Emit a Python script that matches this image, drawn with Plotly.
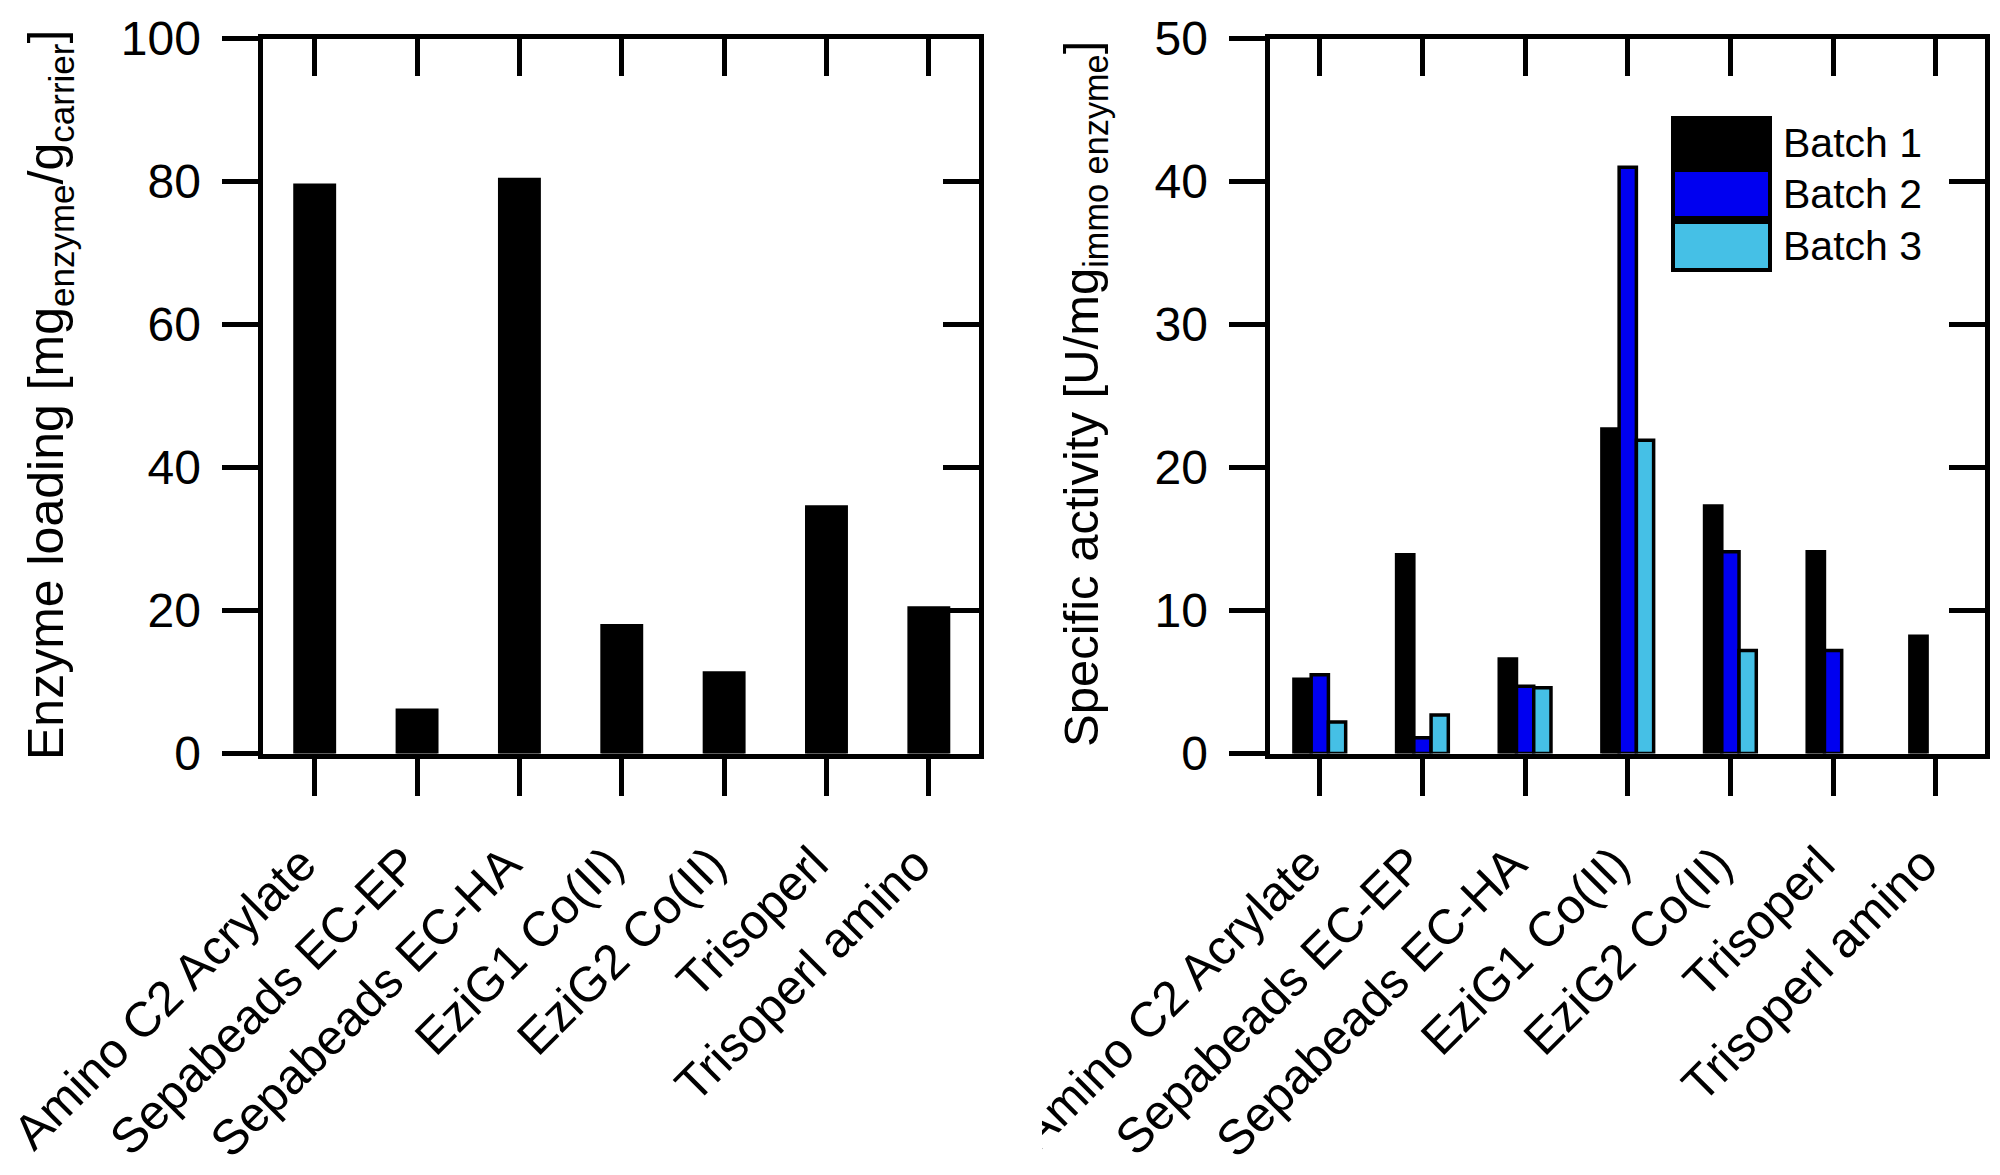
import plotly.graph_objects as go

# ---------------- data ----------------
carriers = ["Amino C2 Acrylate", "Sepabeads EC-EP", "Sepabeads EC-HA",
            "EziG1 Co(II)", "EziG2 Co(II)", "Trisoperl", "Trisoperl amino"]
enzyme_loading = [79.5, 6.1, 80.3, 17.9, 11.3, 34.5, 20.4]

batch_names = ["Batch 1", "Batch 2", "Batch 3"]
batch1_activity = [5.2, 13.9, 6.6, 22.7, 17.3, 14.1, 8.2]
batch2_activity = [5.5, 1.1, 4.7, 41.0, 14.1, 7.2, None]
batch3_activity = [2.2, 2.7, 4.6, 21.9, 7.2, None, None]
batch_colors = ["#000000", "#0000F0", "#45C0E6"]

left_ticks = [0, 20, 40, 60, 80, 100]
right_ticks = [0, 10, 20, 30, 40, 50]

# ---------------- styling ----------------
FONT = "Liberation Sans, Arial, sans-serif"
W, H = 2000, 1175
LW = 5
y_dom = [1 - 753.5 / H, 1 - 38.5 / H]
xl_dom = [262.5 / W, 979 / W]
xr_dom = [1269.5 / W, 1985 / W]
xrange_l = [-0.51, 6.49]
xrange_r = [-0.49, 6.48]

fig = go.Figure()

fig.add_trace(go.Bar(x=carriers, y=enzyme_loading, xaxis="x", yaxis="y",
                     width=0.39, marker=dict(color="black", line=dict(color="black", width=3)),
                     showlegend=False))

bw = 0.168
offsets = [-1.5 * bw, -0.5 * bw, 0.5 * bw]
for name, vals, col, off in zip(batch_names,
                                [batch1_activity, batch2_activity, batch3_activity],
                                batch_colors, offsets):
    fig.add_trace(go.Bar(x=carriers, y=vals, name=name, xaxis="x2", yaxis="y2",
                         width=bw, offset=off,
                         marker=dict(color=col, line=dict(color="black", width=3.5)),
                         showlegend=False))

tickfont = dict(family=FONT, size=48, color="black")
catfont = dict(family=FONT, size=49, color="black")

common_x = dict(type="category", categoryorder="array", categoryarray=carriers,
                showline=True, linewidth=LW, linecolor="black", mirror=True,
                ticks="outside", ticklen=37, tickwidth=LW, tickcolor="black",
                tickangle=-45, tickfont=catfont, showgrid=False, zeroline=False,
                automargin=False, ticklabelstandoff=20, ticklabelshift=-13)
common_y = dict(showline=True, linewidth=LW, linecolor="black", mirror=True,
                ticks="outside", ticklen=36, tickwidth=LW, tickcolor="black",
                tickfont=tickfont, showgrid=False, zeroline=False, automargin=False,
                tickmode="array", ticklabelstandoff=11)

fig.update_layout(
    width=W, height=H, autosize=False,
    margin=dict(l=0, r=0, t=0, b=0),
    paper_bgcolor="white", plot_bgcolor="white",
    barmode="overlay", showlegend=False,
    font=dict(family=FONT, color="black"),
    xaxis=dict(domain=xl_dom, anchor="y", range=xrange_l, **common_x),
    yaxis=dict(domain=y_dom, anchor="x", range=[0, 100], tickvals=left_ticks, **common_y),
    xaxis2=dict(domain=xr_dom, anchor="y2", range=xrange_r, **common_x),
    yaxis2=dict(domain=y_dom, anchor="x2", range=[0, 50], tickvals=right_ticks, **common_y),
    # inward ticks on top / right edges
    xaxis3=dict(overlaying="x", anchor="y", side="top", type="linear", range=xrange_l,
                tickmode="array", tickvals=list(range(len(carriers))), ticks="inside",
                ticklen=37, tickwidth=LW, tickcolor="black", showticklabels=False,
                showline=False, showgrid=False, zeroline=False),
    yaxis3=dict(overlaying="y", anchor="x", side="right", range=[0, 100],
                tickmode="array", tickvals=left_ticks, ticks="inside",
                ticklen=36, tickwidth=LW, tickcolor="black", showticklabels=False,
                showline=False, showgrid=False, zeroline=False),
    xaxis4=dict(overlaying="x2", anchor="y2", side="top", type="linear", range=xrange_r,
                tickmode="array", tickvals=list(range(len(carriers))), ticks="inside",
                ticklen=37, tickwidth=LW, tickcolor="black", showticklabels=False,
                showline=False, showgrid=False, zeroline=False),
    yaxis4=dict(overlaying="y2", anchor="x2", side="right", range=[0, 50],
                tickmode="array", tickvals=right_ticks, ticks="inside",
                ticklen=36, tickwidth=LW, tickcolor="black", showticklabels=False,
                showline=False, showgrid=False, zeroline=False),
)

# invisible traces so the overlay tick axes get drawn
fig.add_trace(go.Scatter(x=[0], y=[0], xaxis="x3", yaxis="y3", mode="markers",
                         marker=dict(opacity=0), hoverinfo="skip", showlegend=False))
fig.add_trace(go.Scatter(x=[0], y=[0], xaxis="x4", yaxis="y4", mode="markers",
                         marker=dict(opacity=0), hoverinfo="skip", showlegend=False))

# axis titles
fig.add_annotation(text="Enzyme loading [mg<sub>enzyme</sub>/g<sub>carrier</sub>]",
                   xref="paper", yref="paper", x=50 / W, y=1 - 395 / H,
                   textangle=-90, showarrow=False,
                   font=dict(family=FONT, size=50, color="black"),
                   xanchor="center", yanchor="middle")
fig.add_annotation(text="Specific activity [U/mg<sub>immo enzyme</sub>]",
                   xref="paper", yref="paper", x=1084 / W, y=1 - 394 / H,
                   textangle=-90, showarrow=False,
                   font=dict(family=FONT, size=49, color="black"),
                   xanchor="center", yanchor="middle")

# legend drawn as large swatches
sw_y = [(118, 167), (170, 218), (222, 270)]
for (y0, y1), name, col in zip(sw_y, batch_names, batch_colors):
    fig.add_shape(type="rect", xref="paper", yref="paper",
                  x0=1673 / W, x1=1770 / W, y0=1 - y1 / H, y1=1 - y0 / H,
                  fillcolor=col, line=dict(color="black", width=4), layer="above")
    fig.add_annotation(text=name, xref="paper", yref="paper",
                       x=1781 / W, y=1 - ((y0 + y1) / 2) / H,
                       xanchor="left", yanchor="middle", showarrow=False,
                       font=dict(family=FONT, size=41, color="black"))

# crop edge of the right panel (label cut-off as in the original composite)
fig.add_shape(type="rect", xref="paper", yref="paper",
              x0=992 / W, x1=1042 / W, y0=0, y1=1 - 800 / H,
              fillcolor="white", line=dict(width=0), layer="above")

fig.write_html("out.html", config={"displayModeBar": False},
               post_script="document.body.style.margin='0';document.body.style.overflow='hidden';")
